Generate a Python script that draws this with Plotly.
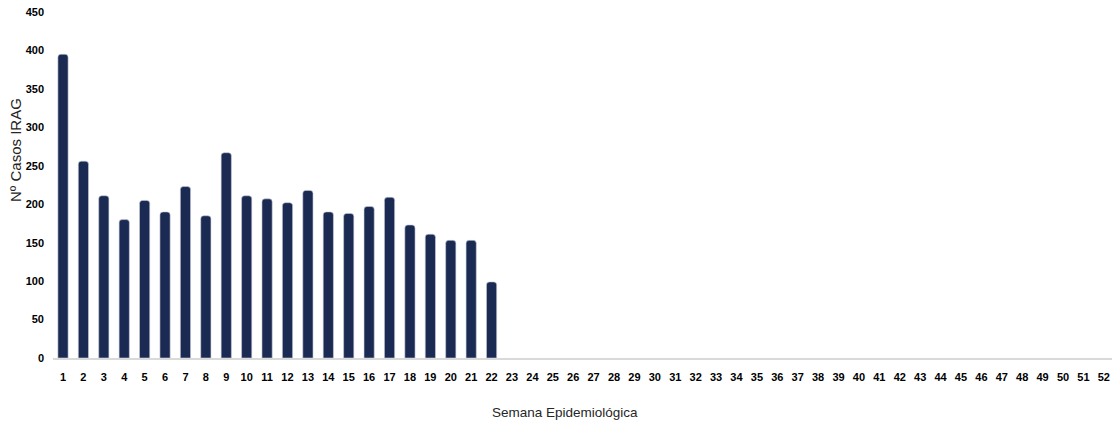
import plotly.graph_objects as go

semanas = [str(i) for i in range(1, 53)]
casos = [395, 256, 211, 180, 205, 190, 223, 185, 267, 211, 207, 202, 218,
         190, 188, 197, 209, 173, 161, 153, 153, 99]
casos_full = casos + [None] * (len(semanas) - len(casos))
y_ticks = [0, 50, 100, 150, 200, 250, 300, 350, 400, 450]

tick_font = dict(family="Liberation Sans Narrow, Arial Narrow, sans-serif",
                 size=11, color="#000000", weight="bold")

fig = go.Figure()
fig.add_trace(go.Bar(
    x=semanas,
    y=casos_full,
    marker=dict(color="#1a2a52", cornerradius=3,
                line=dict(color="#c9ccd6", width=0.6)),
    width=0.5,
))

W, H = 1112, 425
L, R, T, B = 53, 0, 12, 67
pw, ph = W - L - R, H - T - B

fig.update_layout(
    width=W, height=H,
    margin=dict(l=L, r=R, t=T, b=B),
    paper_bgcolor="white", plot_bgcolor="white",
    showlegend=False,
    xaxis=dict(
        type="category", categoryorder="array", categoryarray=semanas,
        range=[-0.49, 51.4],
        showgrid=False, showline=True, linecolor="#d9d9d9", linewidth=1.5,
        ticks="", tickfont=tick_font, ticklabelstandoff=8,
    ),
    yaxis=dict(
        range=[0, 450], tickvals=y_ticks, showgrid=False, showline=False,
        zeroline=False, ticks="", tickfont=tick_font, ticklabelstandoff=8,
    ),
    annotations=[
        dict(text="Nº Casos IRAG", xref="paper", yref="paper",
             x=(15 - L) / pw, y=(H - B - 150) / ph,
             xanchor="center", yanchor="middle",
             showarrow=False, textangle=-90,
             font=dict(family="Liberation Sans, Arial, sans-serif", size=15,
                       color="#262626")),
        dict(text="Semana Epidemiológica", xref="paper", yref="paper",
             x=(565 - L) / pw, y=(H - B - 412) / ph,
             xanchor="center", yanchor="middle", showarrow=False,
             font=dict(family="Liberation Sans, Arial, sans-serif", size=13.5,
                       color="#262626")),
    ],
)

fig.write_html("out.html")
